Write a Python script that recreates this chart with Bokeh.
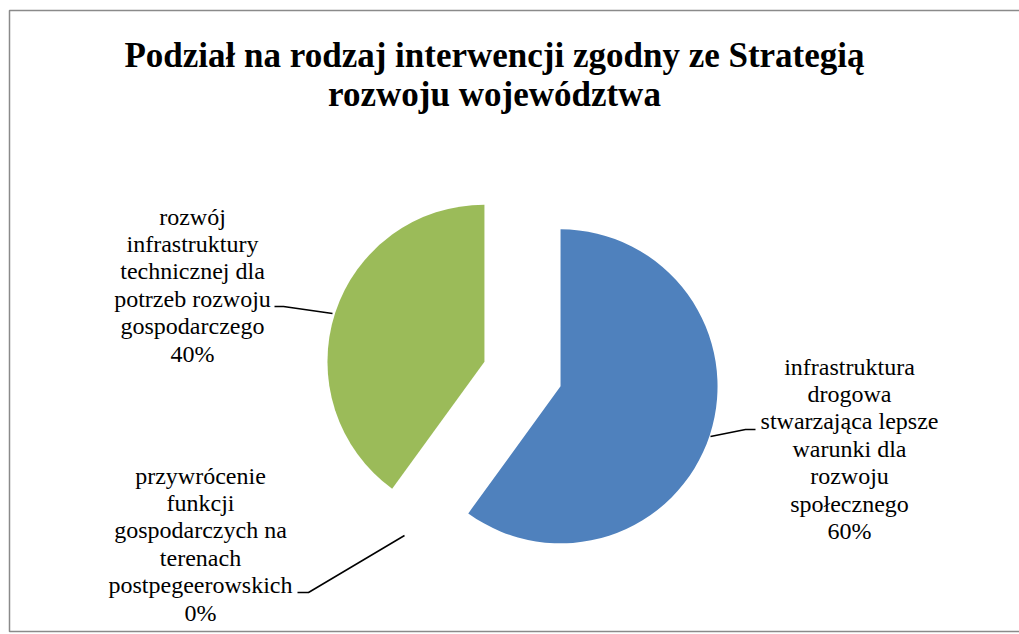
import math
from bokeh.plotting import figure
from bokeh.models import Range1d, ColumnDataSource
from bokeh.core.properties import value
from bokeh.embed import file_html
from bokeh.resources import INLINE

# ---- data ----
categories = [
    "infrastruktura drogowa stwarzająca lepsze warunki dla rozwoju społecznego",
    "rozwój infrastruktury technicznej dla potrzeb rozwoju gospodarczego",
    "przywrócenie funkcji gospodarczych na terenach postpegeerowskich",
]
shares = [60, 40, 0]
colors = ["#4F81BD", "#9BBB59", "#C0504D"]
label_lines = [
    ["infrastruktura", "drogowa", "stwarzająca lepsze", "warunki dla", "rozwoju", "społecznego"],
    ["rozwój", "infrastruktury", "technicznej dla", "potrzeb rozwoju", "gospodarczego"],
    ["przywrócenie", "funkcji", "gospodarczych na", "terenach", "postpegeerowskich"],
]
title_lines = ["Podział na rodzaj interwencji zgodny ze Strategią", "rozwoju województwa"]

# ---- layout ----
W, H = 1019, 634
FONT = "Liberation Serif"
cx, cy = 522, 260.5
R = 157
EXPLODE = 40
label_pos = [(849, 268), (192, 418), (200, 159)]  # centre x, baseline y of first line
LINE_STEP = 27.4
leaders = [
    [(710, 198), (745, 205), (755, 205)],
    [(332, 321), (283, 328), (274, 328)],
    [(404, 99), (308, 42), (297, 42)],
]

p = figure(width=W, height=H, output_backend="svg", toolbar_location=None,
           x_range=Range1d(0, W), y_range=Range1d(0, H), min_border=0)
p.axis.visible = False
p.grid.visible = False
p.outline_line_color = None
p.background_fill_color = "white"
p.border_fill_color = "white"

# frame (right edge off the page)
p.quad(left=[9], right=[W + 50], bottom=[3], top=[624], fill_color=None,
       line_color="#8a8a8a", line_width=1.5)

total = sum(shares)
start = 90.0
for s, c in zip(shares, colors):
    sweep = 360.0 * s / total
    end = start - sweep
    mid = math.radians((start + end) / 2)
    if s > 0:
        ox = cx + EXPLODE * math.cos(mid)
        oy = cy + EXPLODE * math.sin(mid)
        p.wedge(x=[ox], y=[oy], radius=R, start_angle=math.radians(end),
                end_angle=math.radians(start), fill_color=c, line_color=None)
    start = end

for pts in leaders:
    p.line(x=[q[0] for q in pts], y=[q[1] for q in pts], line_color="black", line_width=1.5)

for (lx, ly), lines, s in zip(label_pos, label_lines, shares):
    allines = lines + [f"{s}%"]
    ys = [ly - i * LINE_STEP for i in range(len(allines))]
    src = ColumnDataSource(dict(x=[lx] * len(allines), y=ys, t=allines))
    p.text(x="x", y="y", text="t", source=src, text_font=value(FONT),
           text_font_size="24px", text_align="center", text_baseline="alphabetic",
           text_color="black")

tsrc = ColumnDataSource(dict(x=[494, 494], y=[579, 540], t=title_lines))
p.text(x="x", y="y", text="t", source=tsrc, text_font=value(FONT),
       text_font_size="35px", text_font_style="bold", text_align="center",
       text_baseline="alphabetic", text_color="black")

open("out.html", "w").write(file_html(p, INLINE))
